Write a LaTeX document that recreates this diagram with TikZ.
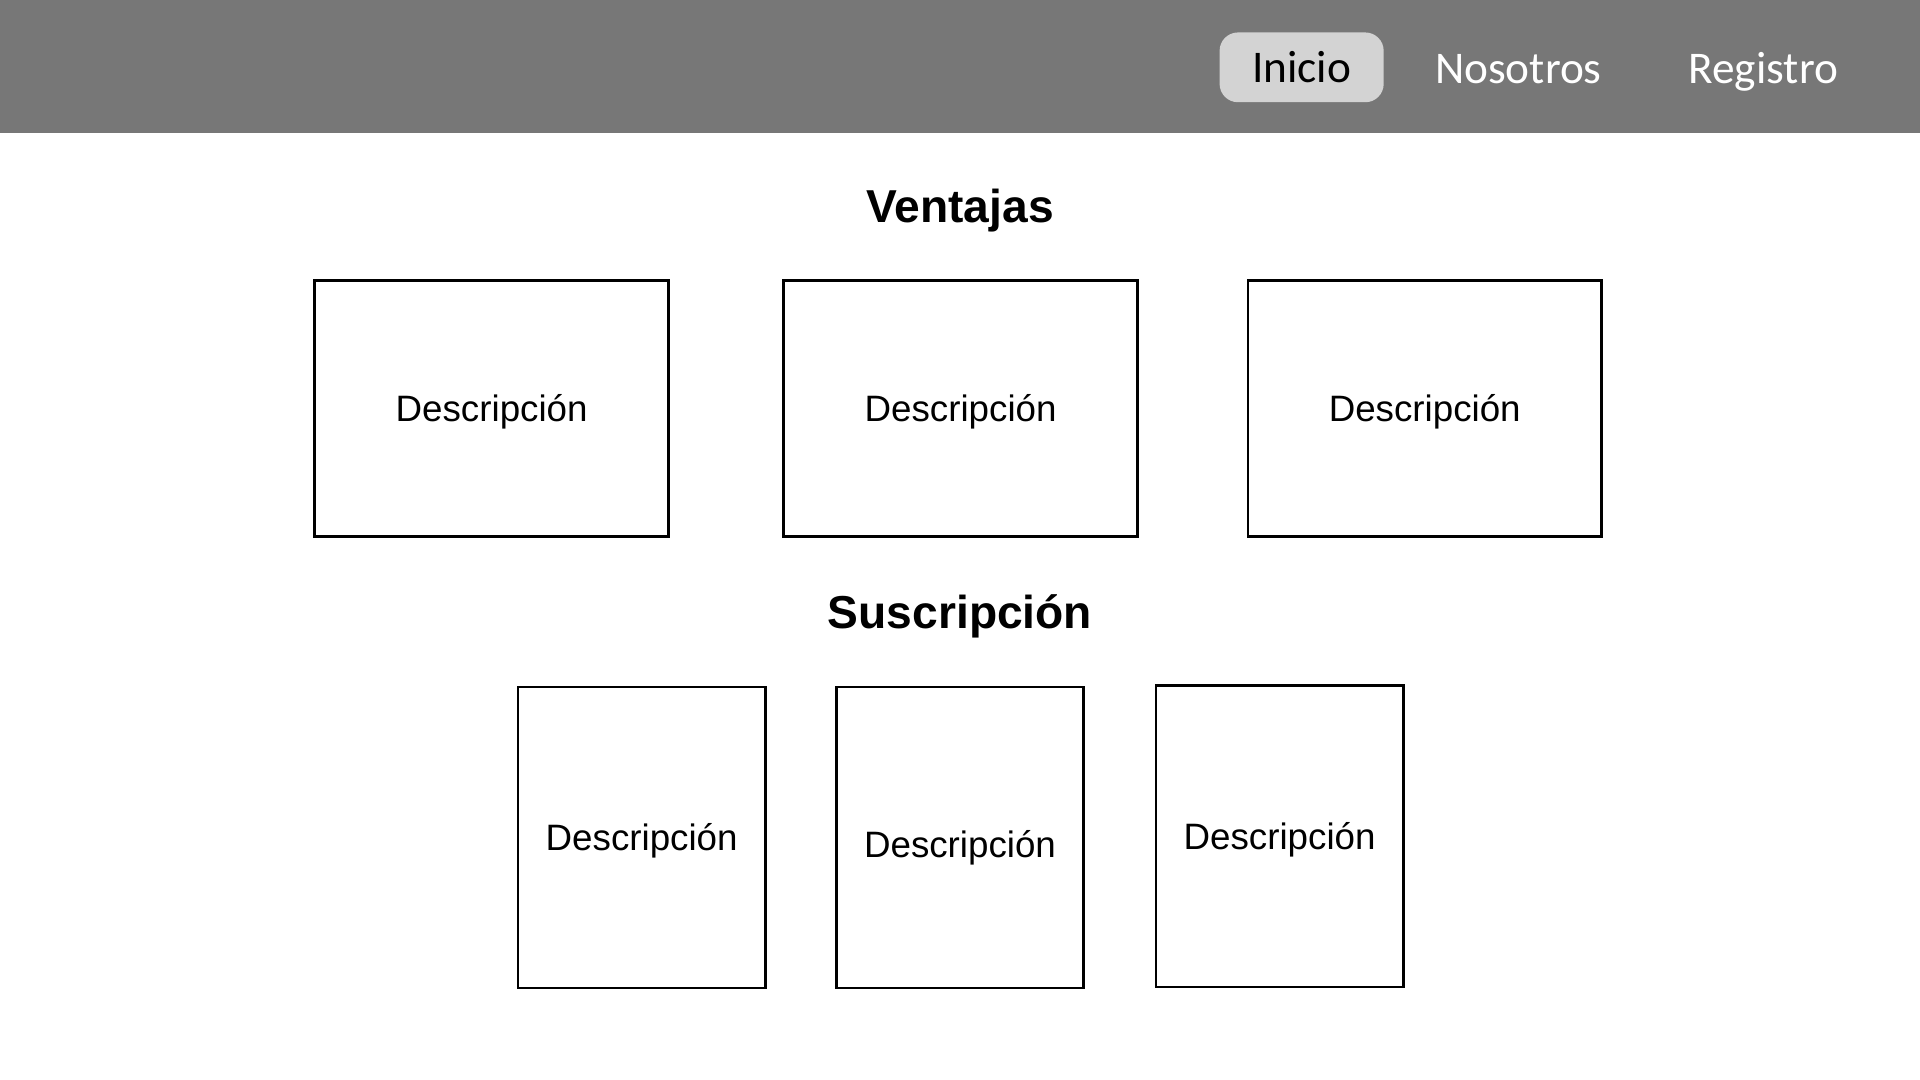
\documentclass[tikz,border=0pt]{standalone}
\usepackage{fontspec}
\setmainfont{Liberation Sans}
\newfontfamily\navfont{Carlito}
\definecolor{bargray}{HTML}{777777}
\definecolor{pillgray}{HTML}{D3D3D3}
\tikzset{
	card/.style={draw,line width=2pt,minimum width=289pt,minimum height=209pt,
		label={[font=\fontsize{30}{36}\selectfont,yshift=#1]center:Descripción}},
	card/.default=-3pt,
	plan/.style={card=#1,minimum width=202pt,minimum height=246pt},
	plan/.default=-3pt,
	navitem/.style={font=\navfont\fontsize{37}{44}\selectfont,text=white,anchor=base},
	heading/.style={font=\bfseries\fontsize{37.7}{45}\selectfont}}
\begin{document}
\begin{tikzpicture}[x=1pt,y=-1pt]
\def\w{1568}\def\h{882}
\useasboundingbox(0,0)rectangle(\w,\h);
\fill[bargray](0,0)rectangle(\w,109);
\node[fill=pillgray,rounded corners=15pt,minimum width=134pt,minimum height=57pt,font=\navfont\fontsize{37}{44}\selectfont](inicio)at(1063,55){Inicio};
\node[navitem](nosotros)at(1240,68){Nosotros};
\node[navitem](registro)at(1440,68){Registro};
\node[heading](ventajas)at(784,172){Ventajas};
\foreach\n/\x in{1/401.5,2/784.5,3/1163.5}
	\node[card](v\n)at(\x,333.5){};
\node[heading](suscripcion)at(784,503){Suscripción};
\node[plan](s1)at(524,684){};
\node[plan=-8pt](s2)at(784,684){};
\node[plan](s3)at(1045,683){};
\end{tikzpicture}
\end{document}
